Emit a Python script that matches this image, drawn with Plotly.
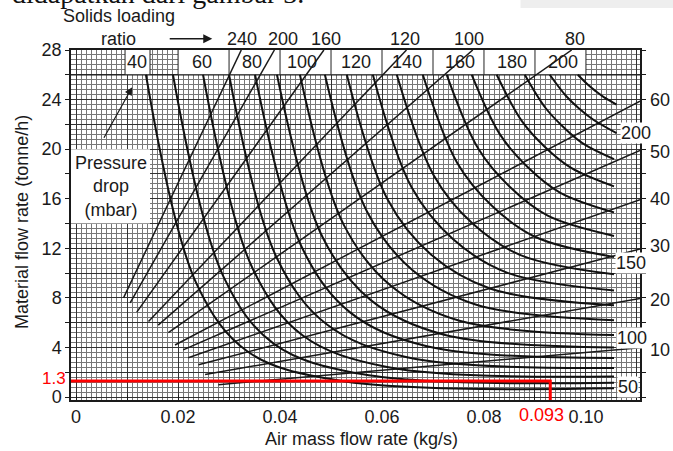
import plotly.graph_objects as go

# ---------------- data ----------------
x_tick_vals = [0, 0.01, 0.02, 0.03, 0.04, 0.05, 0.06, 0.07, 0.08, 0.09, 0.10, 0.11]
x_tick_text = ["0", "", "0.02", "", "0.04", "", "0.06", "", "0.08", "", "0.10", ""]
y_tick_vals = [0, 2, 4, 6, 8, 10, 12, 14, 16, 18, 20, 22, 24, 26, 28]
y_tick_text = ["0", "", "4", "", "8", "", "12", "", "16", "", "20", "", "24", "", "28"]

# constant pressure drop curves (mbar)
pressure_drop = [40, 50, 60, 70, 80, 90, 100, 110, 120, 130, 140, 150, 160, 170, 180, 190, 200, 210]
pd_x = [
    [0.0137, 0.0237, 0.0337, 0.0519, 0.1055],
    [0.0190, 0.0289, 0.0388, 0.0563, 0.1055],
    [0.0249, 0.0346, 0.0444, 0.0610, 0.1055],
    [0.0300, 0.0394, 0.0492, 0.0649, 0.1055],
    [0.0351, 0.0443, 0.0538, 0.0688, 0.1055],
    [0.0394, 0.0483, 0.0578, 0.0720, 0.1055],
    [0.0439, 0.0525, 0.0618, 0.0752, 0.1055],
    [0.0488, 0.0571, 0.0660, 0.0785, 0.1055],
    [0.0531, 0.0611, 0.0696, 0.0813, 0.1055],
    [0.0582, 0.0658, 0.0739, 0.0845, 0.1055],
    [0.0629, 0.0701, 0.0776, 0.0873, 0.1055],
    [0.0680, 0.0747, 0.0816, 0.0901, 0.1055],
    [0.0727, 0.0789, 0.0851, 0.0925, 0.1055],
    [0.0776, 0.0832, 0.0886, 0.0949, 0.1055],
    [0.0825, 0.0874, 0.0919, 0.0971, 0.1055],
    [0.0880, 0.0920, 0.0955, 0.0993, 0.1055],
    [0.0929, 0.0961, 0.0987, 0.1016, 0.1060],
    [0.0984, 0.1004, 0.1019, 0.1035, 0.1060],
]
pd_y = [
    [26, 9.07, 3.65, 1.31, 0.70],
    [26, 9.72, 4.29, 1.83, 1.15],
    [26, 10.39, 4.98, 2.42, 1.65],
    [26, 11.20, 5.85, 3.21, 2.35],
    [26, 12.06, 6.81, 4.10, 3.15],
    [26, 12.93, 7.82, 5.05, 4.00],
    [26, 13.89, 8.95, 6.15, 5.00],
    [26, 14.93, 10.23, 7.45, 6.20],
    [26, 15.94, 11.50, 8.74, 7.40],
    [26, 16.92, 12.75, 10.04, 8.60],
    [26, 17.92, 14.06, 11.43, 9.90],
    [26, 18.93, 15.41, 12.91, 11.30],
    [26, 20.03, 16.94, 14.63, 13.00],
    [26, 21.15, 18.54, 16.50, 14.90],
    [26, 22.28, 20.20, 18.49, 17.00],
    [26, 23.36, 21.81, 20.49, 19.20],
    [26, 24.29, 23.26, 22.33, 21.30],
    [26, 25.19, 24.68, 24.20, 23.60],
]

# constant solids loading ratio lines (start / end points)
ratio_values = [240, 200, 160, 120, 100, 80, 60, 50, 40, 30, 20, 10]
ratio_x0 = [0.0093, 0.0106, 0.0119, 0.0142, 0.0161, 0.0181, 0.0194, 0.0210, 0.0220, 0.0240, 0.0253, 0.0279]
ratio_y0 = [8.00, 7.60, 6.85, 6.10, 5.80, 5.20, 4.20, 3.80, 3.17, 2.60, 1.82, 1.00]
ratio_x1 = [0.0324, 0.0389, 0.0486, 0.0648, 0.0778, 0.0972, 0.1106, 0.1106, 0.1106, 0.1106, 0.1106, 0.1106]
ratio_y1 = [28.0, 28.0, 28.0, 28.0, 28.0, 28.0, 23.87, 19.89, 15.93, 11.94, 7.96, 3.98]

# labels
top_ratio_labels = ["240", "200", "160", "120", "100", "80"]
top_ratio_x = [0.0325, 0.0406, 0.0490, 0.0645, 0.0771, 0.0978]
box_labels = ["40", "60", "80", "100", "120", "140", "160", "180", "200"]
box_label_x = [0.0120, 0.0247, 0.0345, 0.0443, 0.0549, 0.0649, 0.0753, 0.0855, 0.0955]
right_ratio_labels = ["60", "50", "40", "30", "20", "10"]
right_ratio_y = [24.0, 19.8, 16.0, 12.2, 7.84, 3.8]
right_pd_labels = ["200", "150", "100", "50"]
right_pd_x = [0.1098, 0.1088, 0.1090, 0.1082]
right_pd_y = [21.3, 10.8, 4.77, 0.8]

op_air = 0.093      # kg/s
op_material = 1.3   # tonne/h

# ---------------- figure ----------------
FONT = "Liberation Sans, Arial, sans-serif"
X_RANGE = [-0.001, 0.1106]
Y_RANGE = [-0.24, 28]


def px(x):
    """data x -> paper x (for labels outside the axis range)"""
    return (x - X_RANGE[0]) / (X_RANGE[1] - X_RANGE[0])


def py(y):
    """data y -> paper y"""
    return (y - Y_RANGE[0]) / (Y_RANGE[1] - Y_RANGE[0])


fig = go.Figure()

for i, r in enumerate(ratio_values):
    fig.add_trace(go.Scatter(
        x=[ratio_x0[i], ratio_x1[i]], y=[ratio_y0[i], ratio_y1[i]],
        mode="lines", line=dict(color="#1a1a1a", width=1.5),
        hoverinfo="skip", showlegend=False))

for i, p in enumerate(pressure_drop):
    fig.add_trace(go.Scatter(
        x=pd_x[i], y=pd_y[i], mode="lines",
        line=dict(color="#111111", width=2, shape="spline", smoothing=1.0),
        hoverinfo="skip", showlegend=False))

# red operating point lines
fig.add_trace(go.Scatter(
    x=[X_RANGE[0], op_air, op_air], y=[op_material, op_material, Y_RANGE[0]],
    mode="lines", line=dict(color="#ff0000", width=3),
    hoverinfo="skip", showlegend=False))

shapes = []
shapes.append(dict(type="rect", xref="x", yref="y", x0=X_RANGE[0], x1=0.0145, y0=14, y1=20,
                   fillcolor="white", line=dict(width=0), layer="between"))
shapes.append(dict(type="rect", xref="x", yref="y", x0=0.0096, x1=0.0145, y0=26, y1=28,
                   fillcolor="white", line=dict(width=0), layer="between"))
shapes.append(dict(type="rect", xref="x", yref="y", x0=0.02, x1=0.10, y0=26, y1=28,
                   fillcolor="white", line=dict(width=0), layer="between"))
for sx in [0.0096, 0.0145, 0.02, 0.03, 0.04, 0.05, 0.06, 0.07, 0.08, 0.09, 0.10]:
    shapes.append(dict(type="line", xref="x", yref="y", x0=sx, x1=sx, y0=26, y1=28,
                       line=dict(color="#222", width=1), layer="between"))
shapes.append(dict(type="line", xref="x", yref="y", x0=X_RANGE[0], x1=X_RANGE[1], y0=26, y1=26,
                   line=dict(color="#222", width=1.2), layer="between"))
shapes.append(dict(type="rect", xref="paper", yref="paper", x0=0.79, x1=1.06, y0=1.12, y1=1.145,
                   fillcolor="#eeeeee", line=dict(width=0), layer="below"))

ann = []
F18 = dict(family=FONT, size=18, color="#1a1a1a")
ann.append(dict(text="didapatkan dari gambar 3.", xref="paper", yref="paper", x=-0.107, y=1.112,
                xanchor="left", yanchor="bottom", showarrow=False,
                font=dict(family="Liberation Serif, Times New Roman, serif", size=28, color="#111")))
ann.append(dict(text="Solids loading", x=px(0.0084), y=py(30.75), xref="paper", yref="paper",
                xanchor="center", yanchor="middle", showarrow=False, font=F18))
ann.append(dict(text="ratio", x=px(0.0084), y=py(28.85), xref="paper", yref="paper",
                xanchor="center", yanchor="middle", showarrow=False, font=F18))
ann.append(dict(text="", x=px(0.0267), y=py(28.9), xref="paper", yref="paper",
                ax=-44, ay=0, axref="pixel", ayref="pixel", showarrow=True, arrowhead=2,
                arrowsize=1.2, arrowwidth=1.5, arrowcolor="#1a1a1a"))
for t, xv in zip(top_ratio_labels, top_ratio_x):
    ann.append(dict(text=t, x=px(xv), y=py(28.9), xref="paper", yref="paper",
                    xanchor="center", yanchor="middle", showarrow=False, font=F18))
for t, xv in zip(box_labels, box_label_x):
    ann.append(dict(text=t, x=xv, y=27.05, xref="x", yref="y", showarrow=False, font=F18))
for t, yv in zip(right_ratio_labels, right_ratio_y):
    ann.append(dict(text=t, x=px(0.1122), y=py(yv), xref="paper", yref="paper",
                    xanchor="left", yanchor="middle", showarrow=False, font=F18))
for t, xv, yv in zip(right_pd_labels, right_pd_x, right_pd_y):
    ann.append(dict(text=t, x=xv, y=yv, xref="x", yref="y", showarrow=False,
                    bgcolor="white", borderpad=0, font=F18))
ann.append(dict(text="Pressure<br>drop<br>(mbar)", x=0.0068, y=17.0, xref="x", yref="y",
                showarrow=False, font=F18))
ann.append(dict(text="", x=0.0110, y=25.0, ax=0.0053, ay=20.8, xref="x", yref="y",
                axref="x", ayref="y", showarrow=True, arrowhead=2, arrowsize=1.3,
                arrowwidth=1.2, arrowcolor="#1a1a1a"))
ann.append(dict(text=str(op_material), x=X_RANGE[0], y=op_material, xref="x", yref="y",
                xanchor="right", xshift=-3, yshift=2, showarrow=False,
                font=dict(family=FONT, size=17, color="#ff0000")))
ann.append(dict(text=str(op_air), x=0.0912, y=-0.043, xref="x", yref="paper",
                yanchor="middle", showarrow=False,
                font=dict(family=FONT, size=18, color="#ff0000")))
ann.append(dict(text="Air mass flow rate (kg/s)", x=0.51, y=-0.111, xref="paper", yref="paper",
                xanchor="center", yanchor="middle", showarrow=False, font=F18))
ann.append(dict(text="Material flow rate (tonne/h)", x=-0.086, y=0.509, xref="paper", yref="paper",
                textangle=-90, xanchor="center", yanchor="middle", showarrow=False, font=F18))

fig.update_layout(
    width=673, height=451,
    margin=dict(l=71, r=33, t=50, b=51),
    paper_bgcolor="white", plot_bgcolor="white",
    showlegend=False,
    shapes=shapes, annotations=ann,
    font=dict(family=FONT, size=18, color="#1a1a1a"),
    xaxis=dict(
        range=X_RANGE, tickmode="array", tickvals=x_tick_vals, ticktext=x_tick_text,
        showgrid=True, gridcolor="#333333", gridwidth=1, zeroline=False,
        minor=dict(tickmode="linear", tick0=0, dtick=0.001, showgrid=True,
                   gridcolor="#777777", gridwidth=1),
        showline=True, linecolor="#1a1a1a", linewidth=1.5, mirror=True,
        ticks="inside", ticklen=5, tickcolor="#1a1a1a",
        tickfont=dict(family=FONT, size=18, color="#1a1a1a"),
    ),
    yaxis=dict(
        range=Y_RANGE, tickmode="array", tickvals=y_tick_vals, ticktext=y_tick_text,
        showgrid=True, gridcolor="#333333", gridwidth=1, zeroline=False,
        minor=dict(tickmode="linear", tick0=0, dtick=0.4, showgrid=True,
                   gridcolor="#777777", gridwidth=1),
        showline=True, linecolor="#1a1a1a", linewidth=1.5, mirror="ticks",
        ticks="outside", ticklen=4, tickcolor="#1a1a1a",
        tickfont=dict(family=FONT, size=18, color="#1a1a1a"),
    ),
)

fig.write_html("out.html", config={"displayModeBar": False},
               post_script="document.body.style.margin='0';document.body.style.overflow='hidden';")
